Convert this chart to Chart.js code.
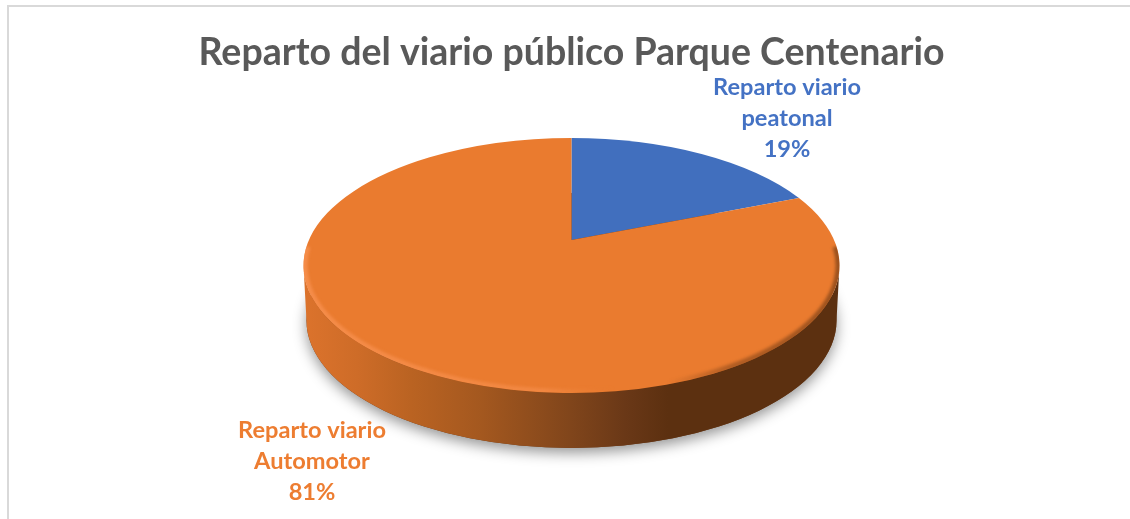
<!DOCTYPE html>
<html>
<head>
<meta charset="utf-8">
<style>html,body{margin:0;padding:0;background:#fff;overflow:hidden}canvas{display:block}</style>
<script src="https://cdn.jsdelivr.net/npm/chart.js@4"></script>
</head>
<body>
<canvas id="c" width="1130" height="519"></canvas>
<script>
const chartTitle = 'Reparto del viario público Parque Centenario';
const categories = ['Reparto viario peatonal', 'Reparto viario Automotor'];
const categoryLines = [['Reparto viario', 'peatonal'], ['Reparto viario', 'Automotor']];
const values = [19, 81];
const sliceColors = ['#416FBE', '#EA7B2F'];
const labelColors = ['#4472C4', '#ED7D31'];

const FONT = 'Lato';
const PERSP = 0.2, SQUASH = 0.466, DEPTH = 55;

const pie3d = {
  id: 'pie3d',
  beforeDraw(chart) {
    const c = chart.ctx;
    c.save();
    c.fillStyle = '#fff'; c.fillRect(0, 0, chart.width, chart.height);
    c.fillStyle = '#D9D9D9';
    c.fillRect(7, 5, 2, chart.height - 5);
    c.fillRect(7, 5, chart.width - 7, 2);
    c.restore();
  },
  beforeDatasetsDraw(chart) {
    const c = chart.ctx;
    const arcs = chart.getDatasetMeta(0).data;
    const x0 = arcs[0].x, y0 = arcs[0].y, R = arcs[0].outerRadius;
    const project = a => {
      const w = 1 - PERSP * Math.sin(a);
      return [x0 + R * Math.cos(a) / w, y0 + SQUASH * R * Math.sin(a) / w];
    };
    const den = 1 - PERSP * PERSP;
    const rx = R / Math.sqrt(den), ry = SQUASH * R / den, cx = x0, cy = y0 + SQUASH * R * PERSP / den;
    const param = a => { const p = project(a); return Math.atan2((p[1] - cy) / ry, (p[0] - cx) / rx); };
    const bx = rx - 3, by = cy + DEPTH;

    // soft ground shadow
    c.save();
    c.shadowColor = 'rgba(0,0,0,0.42)'; c.shadowBlur = 14; c.shadowOffsetX = 0; c.shadowOffsetY = 5;
    c.fillStyle = '#6b3814';
    c.beginPath(); c.ellipse(cx, by, bx, ry, 0, 0, Math.PI * 2); c.fill();
    c.restore();

    // side wall
    const g = c.createLinearGradient(cx - rx, 0, cx + rx, 0);
    [[0, '#DC732C'], [0.10, '#CE6C28'], [0.2, '#BA6322'], [0.33, '#A4581F'], [0.5, '#80451B'],
     [0.6, '#6A3817'], [0.68, '#5C3010'], [1, '#5C3010']].forEach(s => g.addColorStop(s[0], s[1]));
    c.fillStyle = g;
    c.beginPath();
    c.ellipse(cx, cy, rx, ry, 0, 0, Math.PI, false);
    c.ellipse(cx, by, bx, ry, 0, Math.PI, 0, true);
    c.closePath(); c.fill();

    // top face: slices from the library's arc angles
    arcs.forEach(el => {
      c.fillStyle = el.options.backgroundColor;
      c.beginPath();
      c.moveTo(x0, y0);
      c.ellipse(cx, cy, rx, ry, 0, param(el.startAngle), param(el.endAngle), false);
      c.closePath(); c.fill();
    });

    // bevel rim
    c.save();
    c.beginPath(); c.ellipse(cx, cy, rx, ry, 0, 0, Math.PI * 2); c.clip();
    const rim = c.createLinearGradient(cx - rx, 0, cx + rx, 0);
    [[0, 'rgba(248,145,80,0.8)'], [0.45, 'rgba(248,145,80,0.55)'], [0.58, 'rgba(237,125,49,0)'],
     [0.68, 'rgba(92,48,16,0)'], [0.8, 'rgba(92,48,16,0.4)'], [1, 'rgba(92,48,16,0.55)']]
      .forEach(s => rim.addColorStop(s[0], s[1]));
    c.filter = 'blur(1.5px)';
    c.strokeStyle = rim; c.lineWidth = 6;
    c.beginPath(); c.ellipse(cx, cy, rx - 1, ry - 1, 0, -0.15, Math.PI + 0.15, false); c.stroke();
    c.restore();

    return false;
  },
  afterDraw(chart) {
    const c = chart.ctx;
    const arcs = chart.getDatasetMeta(0).data;
    const total = values.reduce((s, v) => s + v, 0);
    const anchors = [[787, 87], [312, 430]];
    c.save();
    c.font = 'bold 23.6px ' + FONT;
    c.textAlign = 'center'; c.textBaseline = 'middle';
    arcs.forEach((el, i) => {
      c.fillStyle = labelColors[i];
      const lines = categoryLines[i].concat(Math.round(values[i] / total * 100) + '%');
      lines.forEach((t, j) => c.fillText(t, anchors[i][0], anchors[i][1] + j * 31));
    });
    c.restore();
  }
};

new Chart(document.getElementById('c'), {
  type: 'pie',
  data: { labels: categories, datasets: [{ data: values, backgroundColor: sliceColors, borderWidth: 0 }] },
  options: {
    responsive: false, animation: false, events: [],
    radius: 262.6,
    layout: { padding: { left: 13, top: 0, right: 0, bottom: 115 } },
    plugins: {
      legend: { display: false }, tooltip: { enabled: false },
      title: { display: true, text: chartTitle, color: '#595959',
        font: { family: FONT, size: 37.5, weight: 'bold' }, padding: { top: 30, bottom: 1 } }
    }
  },
  plugins: [pie3d]
});
</script>
</body>
</html>
